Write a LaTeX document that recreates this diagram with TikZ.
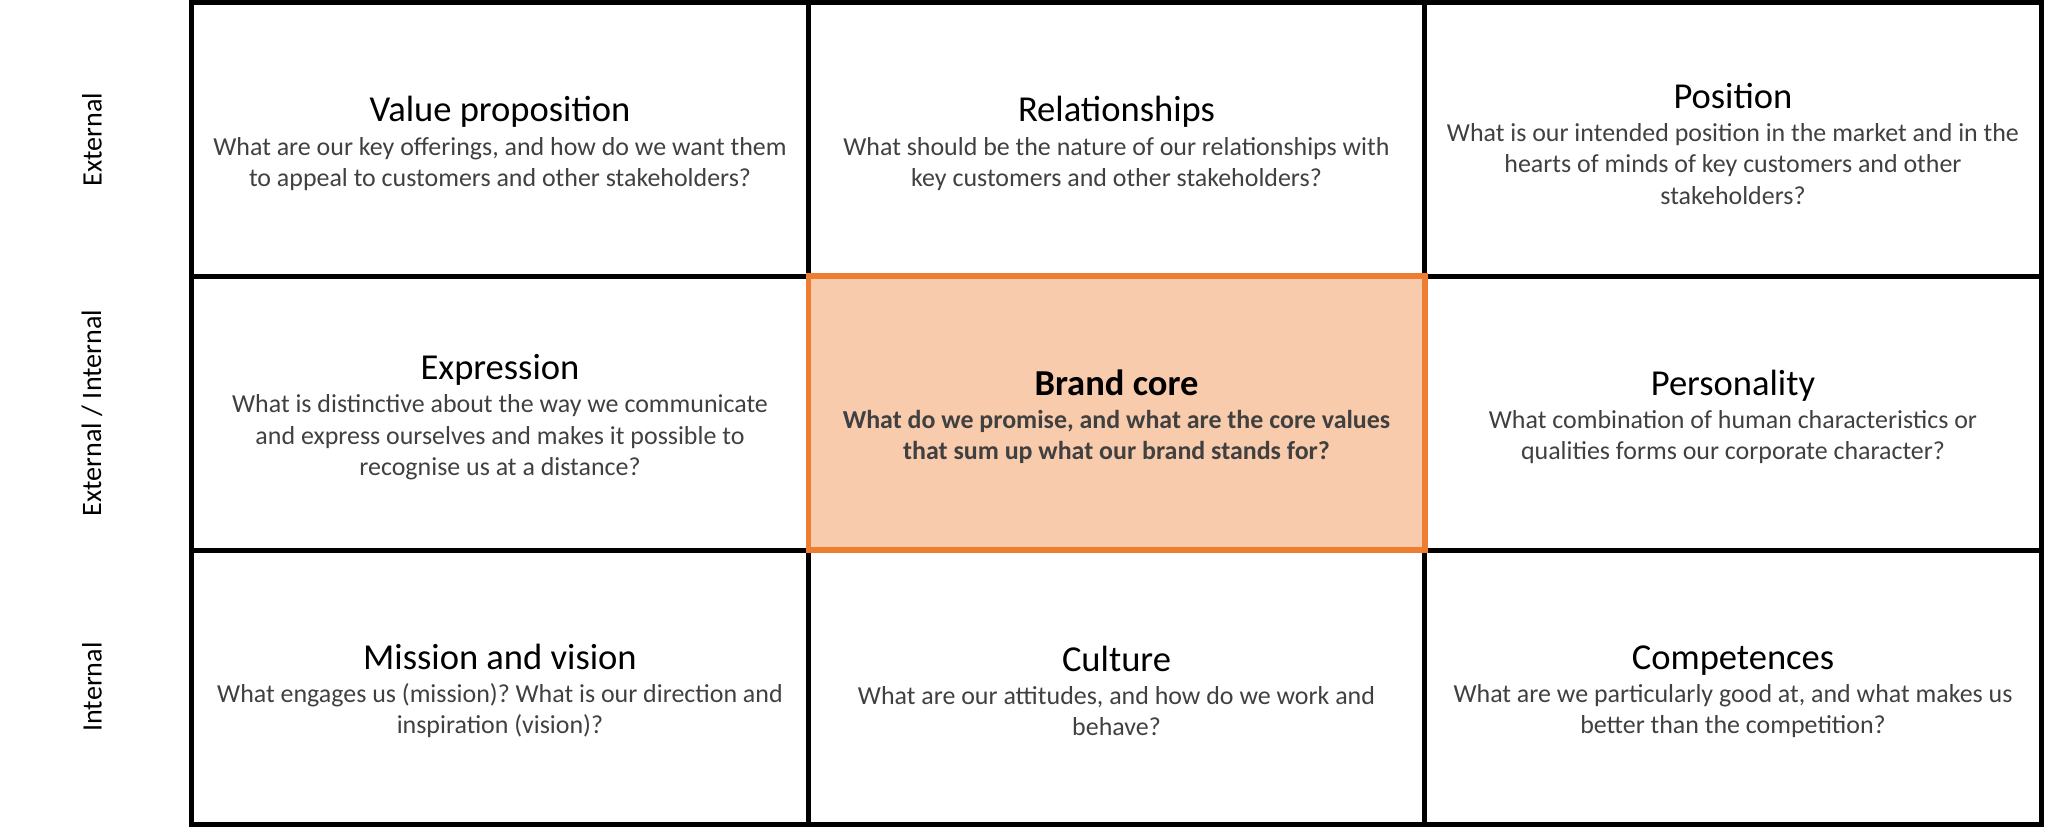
\documentclass[tikz,border=0pt]{standalone}
\usepackage{fontspec}
\setmainfont{Carlito}
\usepackage{xcolor}
\definecolor{coreOrange}{RGB}{237, 125, 49}
\definecolor{corePeach}{RGB}{248, 203, 173}
\definecolor{askGrey}{RGB}{64, 64, 64}
\newcommand{\celltitle}[1]{{\fontsize{10.4}{12.4}\selectfont\color{black}\rule{0pt}{9.5pt}#1}\\[0.6pt]}
\frenchspacing

\begin{document}
\begin{tikzpicture}
            % Styles
            \tikzstyle{cell} = [rectangle, draw=black, line width=0.05cm, minimum width=6.165cm, minimum height=2.74cm, align=center, text=askGrey, inner sep=0pt, font=\fontsize{7.38}{8.9}\selectfont]
            \tikzstyle{core} = [cell, draw=coreOrange, fill=corePeach, line width=0.055cm, font=\bfseries\fontsize{7.38}{8.9}\selectfont]
            \tikzstyle{side} = [rotate=90, text=black, font=\fontsize{8}{9.6}\selectfont]

            \useasboundingbox (0, 0) rectangle (20.48, -8.31);

            % Side labels
            \node[side] (ext) at (0.92, -1.395) {External};
            \node[side] (extint) at (0.92, -4.13) {External / Internal};
            \node[side] (int) at (0.92, -6.87) {Internal};

            % External row
            \node[cell] (vp) at (5.00, -1.395) {\celltitle{Value proposition}What are our key offerings, and how do we want them\\to appeal to customers and other stakeholders?};
            \node[cell] (rel) at (11.165, -1.395) {\celltitle{Relationships}What should be the nature of our relationships with\\key customers and other stakeholders?};
            \node[cell] (pos) at (17.33, -1.395) {\celltitle{Position}What is our intended position in the market and in the\\hearts of minds of key customers and other\\stakeholders?};

            % External / internal row
            \node[cell] (expr) at (5.00, -4.13) {\celltitle{Expression}What is distinctive about the way we communicate\\and express ourselves and makes it possible to\\recognise us at a distance?};
            \node[cell] (pers) at (17.33, -4.13) {\celltitle{Personality}What combination of human characteristics or\\qualities forms our corporate character?};

            % Internal row
            \node[cell] (mis) at (5.00, -6.87) {\celltitle{Mission and vision}What engages us (mission)? What is our direction and\\inspiration (vision)?};
            \node[cell] (cult) at (11.165, -6.87) {\celltitle{Culture}What are our attitudes, and how do we work and\\behave?};
            \node[cell] (comp) at (17.33, -6.87) {\celltitle{Competences}What are we particularly good at, and what makes us\\better than the competition?};

            % Brand core on top
            \node[core] (bc) at (11.165, -4.13) {\celltitle{Brand core}What do we promise, and what are the core values\\that sum up what our brand stands for?};
        \end{tikzpicture}
\end{document}
